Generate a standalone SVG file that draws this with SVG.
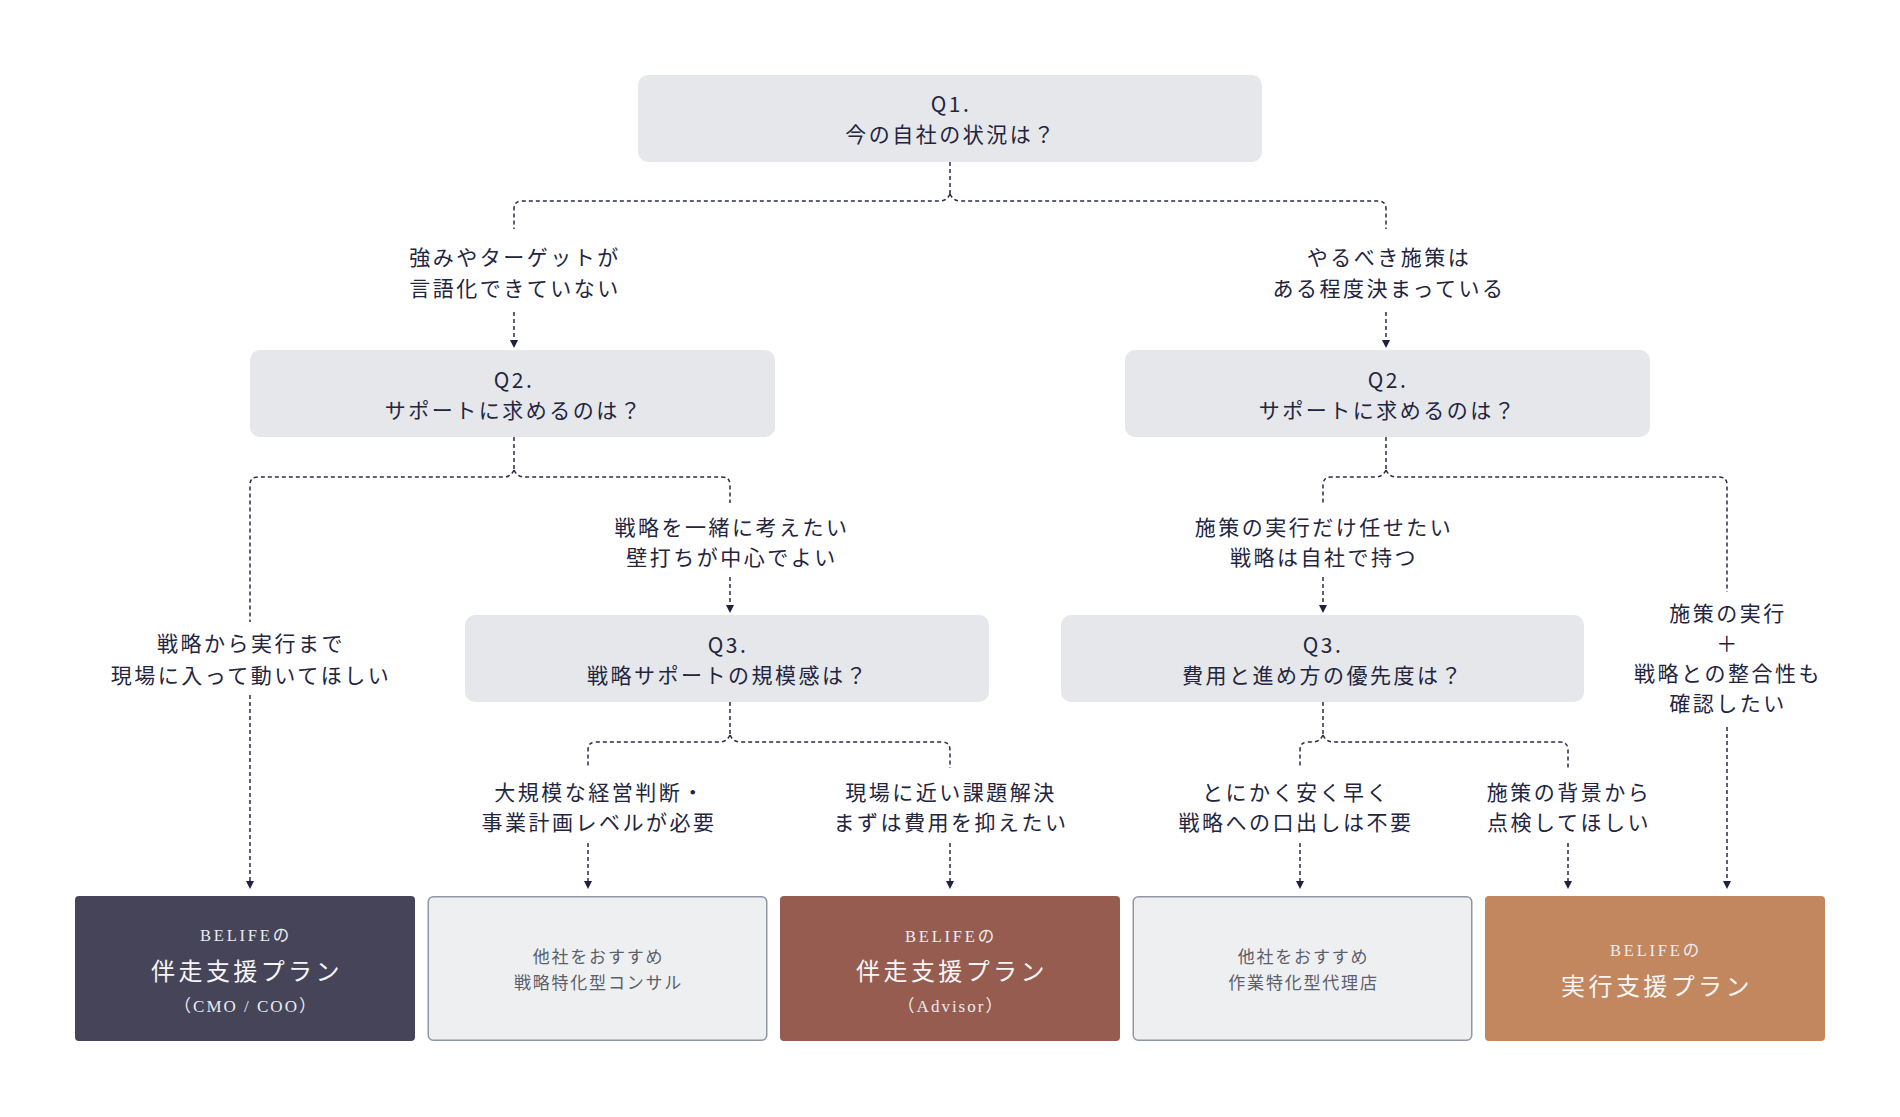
<svg xmlns="http://www.w3.org/2000/svg" width="1900" height="1117" viewBox="0 0 1900 1117">
<defs>
<style>
.q { fill: #e5e7eb; }
.t { font-family: "Noto Sans CJK JP", "Noto Sans", sans-serif; font-size: 21px; fill: #23253f; letter-spacing: 2.5px; text-anchor: middle; }
.s { font-family: "Liberation Serif", "Noto Sans CJK JP", serif; text-anchor: middle; }
.sm { font-size: 16.5px; letter-spacing: 2.8px; fill: #ecebef; }
.lg { font-size: 24px; letter-spacing: 3.4px; fill: #f6f5f7; }
.par { font-size: 17px; letter-spacing: 2px; fill: #ecebef; }
.gr { font-size: 17px; letter-spacing: 1.8px; fill: #5b5f6c; }
.c { fill: none; stroke: #2a2c4a; stroke-width: 1.5; stroke-dasharray: 4 3; }
.a { fill: none; stroke: #2a2c4a; stroke-width: 1.5; stroke-dasharray: 4 3; marker-end: url(#arr); }
</style>
<marker id="arr" viewBox="0 0 10 10" refX="3.75" refY="5" markerWidth="8" markerHeight="8" orient="auto" markerUnits="userSpaceOnUse">
<path d="M0,0 L10,5 L0,10 z" fill="#1f2142"/>
</marker>
</defs>
<rect width="1900" height="1117" fill="#ffffff"/>

<g id="connectors">
<path class="c" d="M950,162 V194"/>
<path class="c" d="M950,194 Q947,201 940,201 H522 Q514,201 514,209 V229"/>
<path class="c" d="M950,194 Q953,201 960,201 H1378 Q1386,201 1386,209 V229"/>
<path class="a" d="M514,312 V343"/>
<path class="a" d="M1386,312 V343"/>
<path class="c" d="M514,437 V470"/>
<path class="c" d="M514,470 Q511,477 504,477 H258 Q250,477 250,485 V622"/>
<path class="c" d="M514,470 Q517,477 524,477 H722 Q730,477 730,485 V503"/>
<path class="a" d="M250,695 V884"/>
<path class="a" d="M730,577 V608"/>
<path class="c" d="M1386,437 V470"/>
<path class="c" d="M1386,470 Q1383,477 1376,477 H1331 Q1323,477 1323,485 V503"/>
<path class="c" d="M1386,470 Q1389,477 1396,477 H1719 Q1727,477 1727,485 V592"/>
<path class="a" d="M1323,577 V608"/>
<path class="a" d="M1727,727 V884"/>
<path class="c" d="M730,702 V735"/>
<path class="c" d="M730,735 Q727,742 720,742 H596 Q588,742 588,750 V768"/>
<path class="c" d="M730,735 Q733,742 740,742 H942 Q950,742 950,750 V768"/>
<path class="a" d="M588,843 V884"/>
<path class="a" d="M950,843 V884"/>
<path class="c" d="M1323,702 V735"/>
<path class="c" d="M1323,735 Q1320,742 1313,742 H1308 Q1300,742 1300,750 V768"/>
<path class="c" d="M1323,735 Q1326,742 1333,742 H1560 Q1568,742 1568,750 V768"/>
<path class="a" d="M1300,843 V884"/>
<path class="a" d="M1568,843 V884"/>
</g>

<g id="labels">
<text class="t" x="515" y="265">強みやターゲットが</text>
<text class="t" x="515" y="296">言語化できていない</text>
<text class="t" x="1389" y="265">やるべき施策は</text>
<text class="t" x="1389" y="296">ある程度決まっている</text>
<text class="t" x="251" y="651">戦略から実行まで</text>
<text class="t" x="251" y="683">現場に入って動いてほしい</text>
<text class="t" x="732" y="535">戦略を一緒に考えたい</text>
<text class="t" x="732" y="565">壁打ちが中心でよい</text>
<text class="t" x="1324" y="535">施策の実行だけ任せたい</text>
<text class="t" x="1324" y="565">戦略は自社で持つ</text>
<text class="t" x="1728" y="621">施策の実行</text>
<text class="t" x="1728" y="651">＋</text>
<text class="t" x="1728" y="681">戦略との整合性も</text>
<text class="t" x="1728" y="711">確認したい</text>
<text class="t" x="600" y="800">大規模な経営判断・</text>
<text class="t" x="599" y="830">事業計画レベルが必要</text>
<text class="t" x="951" y="800">現場に近い課題解決</text>
<text class="t" x="951" y="830">まずは費用を抑えたい</text>
<text class="t" x="1296" y="800">とにかく安く早く</text>
<text class="t" x="1296" y="830">戦略への口出しは不要</text>
<text class="t" x="1569" y="800">施策の背景から</text>
<text class="t" x="1569" y="830">点検してほしい</text>
</g>

<g id="q1">
<rect class="q" x="638" y="75" width="624" height="87" rx="10"/>
<text class="t" x="951" y="112">Q1.</text>
<text class="t" x="951" y="142">今の自社の状況は？</text>
</g>
<g id="q2-left">
<rect class="q" x="250" y="350" width="525" height="87" rx="10"/>
<text class="t" x="514" y="388">Q2.</text>
<text class="t" x="514" y="418">サポートに求めるのは？</text>
</g>
<g id="q2-right">
<rect class="q" x="1125" y="350" width="525" height="87" rx="10"/>
<text class="t" x="1388" y="388">Q2.</text>
<text class="t" x="1388" y="418">サポートに求めるのは？</text>
</g>
<g id="q3-left">
<rect class="q" x="465" y="615" width="524" height="87" rx="10"/>
<text class="t" x="728" y="653">Q3.</text>
<text class="t" x="728" y="683">戦略サポートの規模感は？</text>
</g>
<g id="q3-right">
<rect class="q" x="1061" y="615" width="523" height="87" rx="10"/>
<text class="t" x="1323" y="653">Q3.</text>
<text class="t" x="1323" y="683">費用と進め方の優先度は？</text>
</g>

<g id="plan-cmo">
<rect x="75" y="896" width="340" height="145" rx="4" fill="#464459"/>
<text class="s sm" x="246" y="941">BELIFEの</text>
<text class="s lg" x="247" y="980">伴走支援プラン</text>
<text class="s par" x="246" y="1012">（CMO / COO）</text>
</g>
<g id="other-consul">
<rect x="428.25" y="896.75" width="338.5" height="143.5" rx="5" fill="#eeeff1" stroke="#9196a6" stroke-width="1.5"/>
<text class="s gr" x="598.5" y="963">他社をおすすめ</text>
<text class="s gr" x="598.5" y="989">戦略特化型コンサル</text>
</g>
<g id="plan-advisor">
<rect x="780" y="896" width="340" height="145" rx="4" fill="#955c4f"/>
<text class="s sm" x="951" y="942">BELIFEの</text>
<text class="s lg" x="952" y="980">伴走支援プラン</text>
<text class="s par" x="951" y="1012">（Advisor）</text>
</g>
<g id="other-agency">
<rect x="1133.25" y="896.75" width="338.5" height="143.5" rx="5" fill="#eeeff1" stroke="#9196a6" stroke-width="1.5"/>
<text class="s gr" x="1303.5" y="963">他社をおすすめ</text>
<text class="s gr" x="1303.5" y="989">作業特化型代理店</text>
</g>
<g id="plan-exec">
<rect x="1485" y="896" width="340" height="145" rx="4" fill="#c2875f"/>
<text class="s sm" x="1656" y="956">BELIFEの</text>
<text class="s lg" x="1657" y="995">実行支援プラン</text>
</g>
</svg>
